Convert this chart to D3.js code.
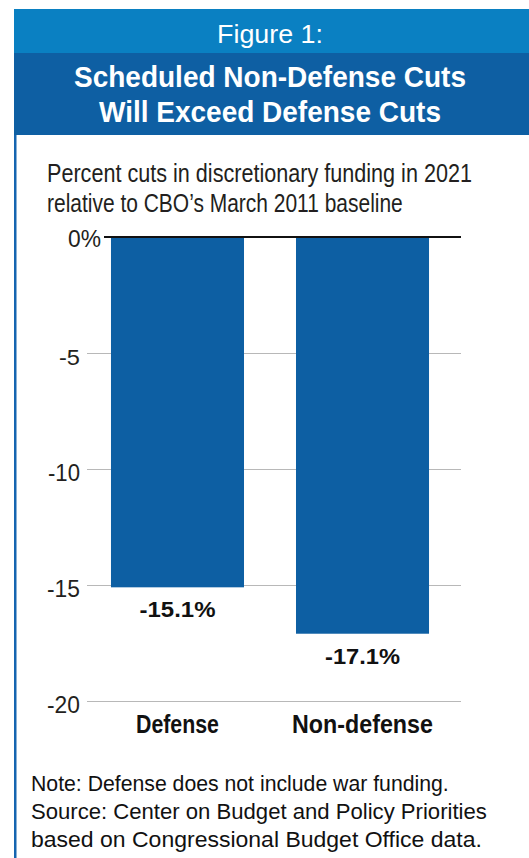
<!DOCTYPE html>
<html>
<head>
<meta charset="utf-8">
<script src="https://cdn.jsdelivr.net/npm/d3@7"></script>
<style>
  html, body { margin: 0; padding: 0; background: #fff; }
  svg { display: block; }
</style>
</head>
<body>
<svg id="chart" width="529" height="858"></svg>
<script>
// Data
const categories = ["Defense", "Non-defense"];
const values = [-15.1, -17.1];
const valueLabels = ["-15.1%", "-17.1%"];
const tickValues = [0, -5, -10, -15, -20];
const tickLabels = ["0%", "-5", "-10", "-15", "-20"];
const figureLabel = "Figure 1:";
const titleLines = ["Scheduled Non-Defense Cuts", "Will Exceed Defense Cuts"];
const subtitleLines = ["Percent cuts in discretionary funding in 2021", "relative to CBO\u2019s March 2011 baseline"];
const noteLines = [
  "Note: Defense does not include war funding.",
  "Source: Center on Budget and Policy Priorities",
  "based on Congressional Budget Office data."
];

const svg = d3.select("#chart");
const font = "'Liberation Sans', Arial, sans-serif";

// Squeeze each text run horizontally to a target width, about its anchor point
function fit(sel, widthFn) {
  sel.each(function (d, i) {
    const t = d3.select(this);
    const natural = this.getComputedTextLength();
    const target = typeof widthFn === "function" ? widthFn(d, i) : widthFn;
    const sx = target / natural;
    const ax = +t.attr("x");
    t.attr("transform", `translate(${ax},0) scale(${sx},1) translate(${-ax},0)`);
  });
}

// Header bands and frame
svg.append("rect").attr("x", 14).attr("y", 9).attr("width", 515).attr("height", 44).attr("fill", "#0a80c2");
svg.append("rect").attr("x", 14).attr("y", 53).attr("width", 515).attr("height", 82).attr("fill", "#0e5fa3");
svg.append("rect").attr("x", 14).attr("y", 135).attr("width", 2.5).attr("height", 723).attr("fill", "#1565b0");

svg.append("text").attr("x", 270).attr("y", 43).attr("text-anchor", "middle")
  .attr("fill", "#fff").style("font-family", font).style("font-size", "25px")
  .text(figureLabel).call(fit, 106);

const titleWidths = [392, 342];
svg.selectAll("text.title").data(titleLines).join("text")
  .attr("class", "title")
  .attr("x", 270).attr("y", (d, i) => 87 + i * 35).attr("text-anchor", "middle")
  .attr("fill", "#fff").style("font-family", font).style("font-size", "29px").style("font-weight", "bold")
  .text(d => d).call(fit, (d, i) => titleWidths[i]);

const subtitleWidths = [425, 356];
svg.selectAll("text.subtitle").data(subtitleLines).join("text")
  .attr("class", "subtitle")
  .attr("x", 47).attr("y", (d, i) => 182 + i * 30)
  .attr("fill", "#231f20").style("font-family", font).style("font-size", "25px")
  .text(d => d).call(fit, (d, i) => subtitleWidths[i]);

// Scales
const y = d3.scaleLinear().domain([0, -20]).range([237, 701]);
const x = d3.scaleBand().domain(categories).range([86, 454]).paddingInner(0.281).paddingOuter(0.135);

// Gridlines
const grid = d3.axisLeft(y).tickValues(tickValues.slice(1)).tickSize(-(461 - 87)).tickFormat("");
svg.append("g").attr("transform", "translate(87,0)").call(grid)
  .call(g => g.select(".domain").remove())
  .call(g => g.selectAll("line").attr("stroke", "#b8b8b8").attr("stroke-width", 1.2));

// Bars
svg.selectAll("rect.bar").data(values).join("rect")
  .attr("class", "bar")
  .attr("x", (d, i) => x(categories[i]))
  .attr("y", y(0))
  .attr("width", x.bandwidth())
  .attr("height", d => y(d) - y(0))
  .attr("fill", "#0d5fa3");

// Zero baseline
svg.append("line").attr("x1", 104).attr("x2", 461).attr("y1", y(0)).attr("y2", y(0))
  .attr("stroke", "#111").attr("stroke-width", 2);

// Y tick labels
const tickWidths = [33, 21, 32, 33, 33];
svg.selectAll("text.ytick").data(tickValues).join("text")
  .attr("class", "ytick")
  .attr("x", (d, i) => i === 0 ? 101 : 80)
  .attr("y", (d, i) => y(d) + (i === 0 ? 10 : 12))
  .attr("text-anchor", "end")
  .attr("fill", "#231f20").style("font-family", font).style("font-size", "23px")
  .text((d, i) => tickLabels[i]).call(fit, (d, i) => tickWidths[i]);

// Value labels
const valueWidths = [76, 75];
svg.selectAll("text.val").data(values).join("text")
  .attr("class", "val")
  .attr("x", (d, i) => x(categories[i]) + x.bandwidth() / 2)
  .attr("y", d => y(d) + 30)
  .attr("text-anchor", "middle")
  .attr("fill", "#111").style("font-family", font).style("font-size", "22px").style("font-weight", "bold")
  .text((d, i) => valueLabels[i]).call(fit, (d, i) => valueWidths[i]);

// Category labels
const catWidths = [83, 141];
svg.selectAll("text.cat").data(categories).join("text")
  .attr("class", "cat")
  .attr("x", d => x(d) + x.bandwidth() / 2)
  .attr("y", 733)
  .attr("text-anchor", "middle")
  .attr("fill", "#111").style("font-family", font).style("font-size", "25px").style("font-weight", "bold")
  .text(d => d).call(fit, (d, i) => catWidths[i]);

// Notes
const noteWidths = [418, 456, 451];
svg.selectAll("text.note").data(noteLines).join("text")
  .attr("class", "note")
  .attr("x", 31).attr("y", (d, i) => 791 + i * 28)
  .attr("fill", "#111").style("font-family", font).style("font-size", "22px")
  .text(d => d).call(fit, (d, i) => noteWidths[i]);
</script>
</body>
</html>
